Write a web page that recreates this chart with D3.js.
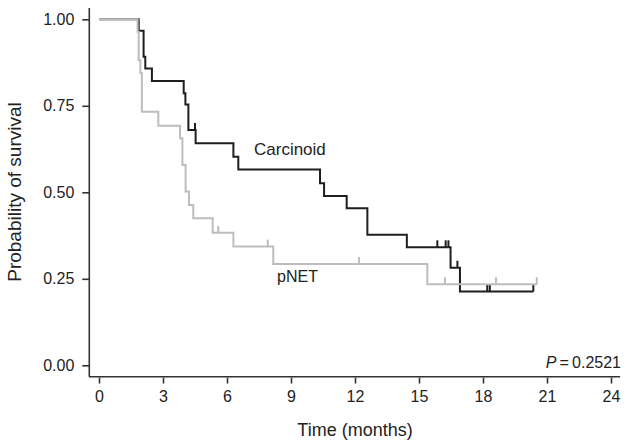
<!DOCTYPE html>
<html>
<head>
<meta charset="utf-8">
<script src="https://cdn.jsdelivr.net/npm/d3@7"></script>
<style>
  body { margin: 0; background: #fff; }
  svg { display: block; font-family: "Liberation Sans", Arial, sans-serif; }
</style>
</head>
<body>
<svg id="chart"></svg>
<script>
// Kaplan-Meier estimates (time in months, survival probability)
let carcTime = [0, 1.86, 2.09, 2.17, 2.48, 3.97, 4.05, 4.19, 4.53, 6.30, 6.53, 10.36, 10.55, 11.61, 12.58, 14.43, 16.48, 16.92, 20.36]
let carcSurv = [1, 0.967, 0.892, 0.858, 0.822, 0.786, 0.754, 0.680, 0.642, 0.603, 0.566, 0.526, 0.489, 0.454, 0.377, 0.341, 0.282, 0.213, 0.213]
let carcCensor = [4.50, 15.86, 16.25, 16.38, 16.80, 18.20, 18.32, 20.36]

let pnetTime = [0, 1.81, 1.86, 1.94, 2.01, 2.78, 3.80, 3.91, 4.06, 4.22, 4.42, 5.33, 6.30, 8.17, 15.39, 20.52]
let pnetSurv = [1, 0.964, 0.882, 0.844, 0.733, 0.692, 0.656, 0.579, 0.502, 0.463, 0.425, 0.383, 0.343, 0.293, 0.234, 0.234]
let pnetCensor = [5.59, 7.91, 12.19, 16.22, 18.61, 20.52]

let xTicks = [0, 3, 6, 9, 12, 15, 18, 21, 24]
let yTicks = [0, 0.25, 0.5, 0.75, 1]

let width = 629
let height = 448

let svg = d3.select('#chart')
    .attr('width', width)
    .attr('height', height)

let xScale = d3.scaleLinear().domain([0, 24]).range([99, 611])
let yScale = d3.scaleLinear().domain([0, 1]).range([365.3, 19.3])

// step lookup for censor marks
let survAt = (times, surv, t) => {
    let i = d3.bisectRight(times, t) - 1
    return surv[Math.max(0, i)]
}

let drawAxes = () => {
    let axisColor = '#333'
    // axis lines span a bit past the data range, like base R plots
    svg.append('line')
        .attr('x1', xScale(-0.47)).attr('x2', xScale(24.43))
        .attr('y1', 376.7).attr('y2', 376.7)
        .attr('stroke', axisColor).attr('stroke-width', 1.6)
    svg.append('line')
        .attr('x1', 89.3).attr('x2', 89.3)
        .attr('y1', yScale(1.033)).attr('y2', 376.7)
        .attr('stroke', axisColor).attr('stroke-width', 1.6)

    let xAxis = d3.axisBottom(xScale)
        .tickValues(xTicks)
        .tickSize(6)
        .tickPadding(7)
        .tickFormat(d3.format('d'))
    let gx = svg.append('g')
        .attr('id', 'x-axis')
        .attr('transform', 'translate(0,' + 377.5 + ')')
        .call(xAxis)
    gx.select('.domain').remove()

    let yAxis = d3.axisLeft(yScale)
        .tickValues(yTicks)
        .tickSize(7)
        .tickPadding(8)
        .tickFormat(d3.format('.2f'))
    let gy = svg.append('g')
        .attr('id', 'y-axis')
        .attr('transform', 'translate(' + 89.3 + ',0)')
        .call(yAxis)
    gy.select('.domain').remove()

    svg.selectAll('.tick line').attr('stroke', axisColor).attr('stroke-width', 1.6)
    svg.selectAll('.tick text')
        .attr('fill', '#222')
        .style('font-size', '16px')
        .style('font-family', '"Liberation Sans", Arial, sans-serif')

    svg.append('text')
        .attr('x', 355)
        .attr('y', 436)
        .attr('text-anchor', 'middle')
        .attr('fill', '#222')
        .style('font-size', '18px')
        .text('Time (months)')

    svg.append('text')
        .attr('transform', 'translate(21,' + 192 + ') rotate(-90)')
        .attr('text-anchor', 'middle')
        .attr('fill', '#222')
        .style('font-size', '19px')
        .text('Probability of survival')
}

let drawCurve = (times, surv, censor, color, width) => {
    let pts = times.map((t, i) => [t, surv[i]])
    let line = d3.line()
        .x((d) => xScale(d[0]))
        .y((d) => yScale(d[1]))
        .curve(d3.curveStepAfter)
    svg.append('path')
        .datum(pts)
        .attr('d', line)
        .attr('fill', 'none')
        .attr('stroke', color)
        .attr('stroke-width', width)

    svg.selectAll(null)
        .data(censor)
        .enter()
        .append('line')
        .attr('x1', (t) => xScale(t))
        .attr('x2', (t) => xScale(t))
        .attr('y1', (t) => yScale(survAt(times, surv, t)))
        .attr('y2', (t) => yScale(survAt(times, surv, t)) - 7)
        .attr('stroke', color)
        .attr('stroke-width', width)
}

let drawLabels = () => {
    svg.append('text')
        .attr('x', 254).attr('y', 155)
        .attr('fill', '#222')
        .style('font-size', '17px')
        .text('Carcinoid')
    svg.append('text')
        .attr('x', 277).attr('y', 282)
        .attr('fill', '#222')
        .style('font-size', '16px')
        .text('pNET')

    let p = svg.append('text')
        .attr('x', 621).attr('y', 368)
        .attr('text-anchor', 'end')
        .attr('fill', '#222')
        .style('font-size', '16px')
    p.append('tspan').style('font-style', 'italic').text('P')
    p.append('tspan').text('\u2009=\u20090.2521')
}

drawAxes()
drawCurve(carcTime, carcSurv, carcCensor, '#1e1e1e', 2)
drawCurve(pnetTime, pnetSurv, pnetCensor, '#bdbdbd', 2)
drawLabels()
</script>
</body>
</html>
